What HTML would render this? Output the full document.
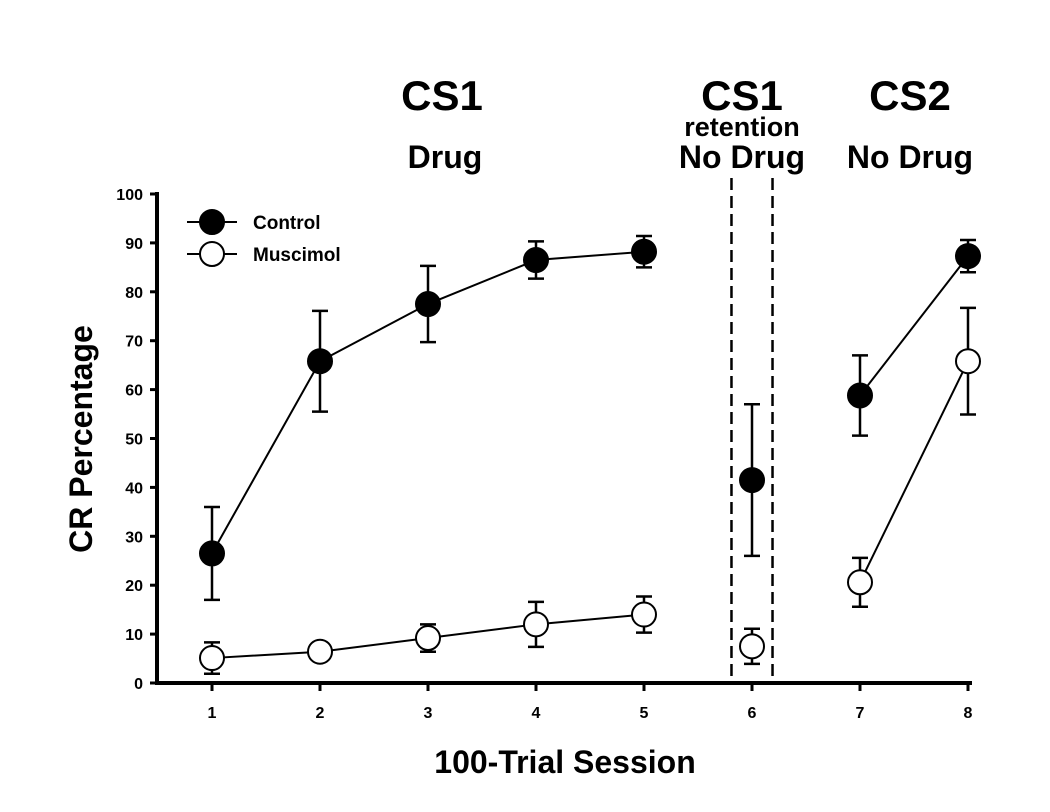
<!DOCTYPE html>
<html><head><meta charset="utf-8"><style>
html,body{margin:0;padding:0;background:#fff;}
svg text{font-family:"Liberation Sans",Arial,sans-serif;font-weight:bold;fill:#000;}
</style></head><body>
<svg id="chart" width="1050" height="807" viewBox="0 0 1050 807" xmlns="http://www.w3.org/2000/svg">
<g id="axes"></g><g id="marks"></g>
<text x="442" y="110" font-size="42" text-anchor="middle">CS1</text>
<text x="445" y="168" font-size="32" text-anchor="middle">Drug</text>
<text x="742" y="110" font-size="42" text-anchor="middle">CS1</text>
<text x="742" y="136" font-size="27" text-anchor="middle">retention</text>
<text x="742" y="168" font-size="32" text-anchor="middle">No Drug</text>
<text x="910" y="110" font-size="42" text-anchor="middle">CS2</text>
<text x="910" y="168" font-size="32" text-anchor="middle">No Drug</text>
<text x="565" y="773" font-size="32" text-anchor="middle">100-Trial Session</text>
<text transform="translate(92,439) rotate(-90)" font-size="32" text-anchor="middle">CR Percentage</text>
<g>
<line x1="187" y1="222" x2="237" y2="222" stroke="#000" stroke-width="2"/>
<circle cx="212" cy="222" r="12" fill="#000" stroke="#000" stroke-width="2"/>
<text x="253" y="229" font-size="19">Control</text>
<line x1="187" y1="254" x2="237" y2="254" stroke="#000" stroke-width="2"/>
<circle cx="212" cy="254" r="12" fill="#fff" stroke="#000" stroke-width="2"/>
<text x="253" y="261" font-size="19">Muscimol</text>
</g>
</svg>
<script>
const sessions=[1,2,3,4,5,6,7,8];
const yTicks=[0,10,20,30,40,50,60,70,80,90,100];
const controlMean=[26.5,65.8,77.5,86.5,88.2,41.5,58.8,87.3];
const controlErr=[9.5,10.3,7.8,3.8,3.2,15.5,8.2,3.3];
const muscimolMean=[5.1,6.4,9.2,12.0,14.0,7.5,20.6,65.8];
const muscimolErr=[3.2,1.5,2.8,4.6,3.7,3.6,5.0,10.9];
const segments=[[0,5],[6,8]];
const NS="http://www.w3.org/2000/svg";
function xs(s){return 212+(s-1)*108;}
function ys(v){return 683-v*4.89;}
function mk(tag,attrs,parent){const e=document.createElementNS(NS,tag);for(const k in attrs)e.setAttribute(k,attrs[k]);parent.appendChild(e);return e;}
const axes=document.getElementById('axes'),marks=document.getElementById('marks');
let a=mk('line',{x1:157,y1:192,x2:157,y2:685,stroke:'#000','stroke-width':4},axes);


a=mk('line',{x1:155,y1:683,x2:972,y2:683,stroke:'#000','stroke-width':4},axes);


yTicks.forEach(t=>{
 const l=mk('line',{x1:150,y1:ys(t),x2:157,y2:ys(t),stroke:'#000','stroke-width':3},axes);
 
 
 const tx=mk('text',{x:143,y:ys(t)+6,'font-size':16,'text-anchor':'end'},axes);tx.textContent=t;
 
 
});
sessions.forEach(s=>{
 const l=mk('line',{x1:xs(s),y1:683,x2:xs(s),y2:691,stroke:'#000','stroke-width':3},axes);
 
 
 const tx=mk('text',{x:xs(s),y:718,'font-size':16,'text-anchor':'middle'},axes);tx.textContent=s;
 
 
});
[5.81,6.19].forEach(s=>{
 const l=mk('line',{x1:xs(s),y1:178,x2:xs(s),y2:683,stroke:'#000','stroke-width':2.5,'stroke-dasharray':'12,6'},axes);
 
 
});
function series(mean,err,fill,name){
 segments.forEach(([a,b])=>{
  const pts=[];for(let i=a;i<b;i++)pts.push(xs(sessions[i])+','+ys(mean[i]));
  if(pts.length>1){const p=mk('polyline',{points:pts.join(' '),fill:'none',stroke:'#000','stroke-width':2},marks);
  
  }
 });
 mean.forEach((m,i)=>{
  const x=xs(sessions[i]);
  const e=mk('path',{d:`M${x},${ys(m-err[i])}V${ys(m+err[i])}M${x-8},${ys(m+err[i])}H${x+8}M${x-8},${ys(m-err[i])}H${x+8}`,stroke:'#000','stroke-width':2.5,fill:'none'},marks);
  
  
 });
 mean.forEach((m,i)=>{
  const c=mk('circle',{cx:xs(sessions[i]),cy:ys(m),r:12,fill:fill,stroke:'#000','stroke-width':2},marks);
  
  
 });
}
series(controlMean,controlErr,'#000','control');
series(muscimolMean,muscimolErr,'#fff','muscimol');
</script>
</body></html>
